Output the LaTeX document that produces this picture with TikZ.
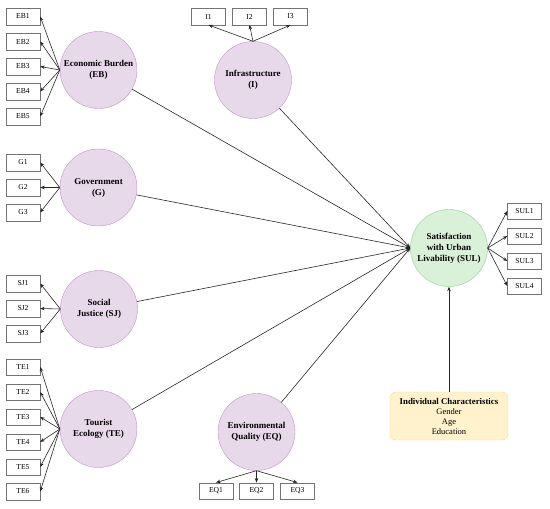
\documentclass[tikz,border=0pt]{standalone}
\usepackage{fontspec}
\setmainfont{Liberation Serif}
\usetikzlibrary{arrows.meta,shadows}
\definecolor{latfill}{HTML}{E8D9EA}
\definecolor{latline}{HTML}{BE94C6}
\definecolor{sulfill}{HTML}{D9F0D9}
\definecolor{sulline}{HTML}{8FD08F}
\definecolor{charfill}{HTML}{FFF2CC}
\definecolor{charline}{HTML}{F5D98A}
\begin{document}
\begin{tikzpicture}
[x=1pt,y=-1pt,
latent/.style={circle,draw=latline,fill=latfill,minimum size=77pt,inner sep=0pt,align=center,font=\fontsize{9}{11}\selectfont\bfseries},
ind/.style={draw=black!55,fill=white,minimum width=34pt,minimum height=16.5pt,inner sep=0pt,font=\fontsize{7.6}{9}\selectfont,drop shadow={shadow xshift=0.7pt,shadow yshift=-0.7pt,fill=black!80,opacity=1}},
arr/.style={draw=black!85,line width=0.6pt,-{Stealth[length=4.5pt,width=3.5pt]}}]
\useasboundingbox (0,0) rectangle (550,509);
% latent variables
\node (eb) at (98.5,70) [latent] {Economic Burden\\(EB)};
\node (inf) at (253,80) [latent] {Infrastructure\\(I)};
\node (gov) at (98.5,187.5) [latent] {Government\\(G)};
\node (sj) at (99,309) [latent] {Social\\Justice (SJ)};
\node (te) at (98.5,429) [latent] {Tourist\\Ecology (TE)};
\node (eq) at (256.5,432) [latent] {Environmental\\Quality (EQ)};
\node (sul) at (449,248) [latent,draw=sulline,fill=sulfill] {Satisfaction\\with Urban\\Livability (SUL)};
\node (ic) at (449,416) [draw=charline,fill=charfill,rounded corners=6pt,minimum width=118pt,minimum height=48pt,align=center,font=\fontsize{8.5}{10}\selectfont] {{\fontsize{8.8}{10}\selectfont\bfseries Individual Characteristics}\\Gender\\Age\\Education};
% indicators
\node (eb1) at (23,16.5) [ind] {EB1};
\node (eb2) at (23,41.5) [ind] {EB2};
\node (eb3) at (23,66.5) [ind] {EB3};
\node (eb4) at (23,91.5) [ind] {EB4};
\node (eb5) at (23,116.5) [ind] {EB5};
\node (i1) at (208.5,16.5) [ind] {I1};
\node (i2) at (249.5,16.5) [ind] {I2};
\node (i3) at (290.5,16.5) [ind] {I3};
\node (g1) at (23,162.5) [ind] {G1};
\node (g2) at (23,187.5) [ind] {G2};
\node (g3) at (23,212.5) [ind] {G3};
\node (sj1) at (23,283.5) [ind] {SJ1};
\node (sj2) at (23,308.5) [ind] {SJ2};
\node (sj3) at (23,333.5) [ind] {SJ3};
\node (te1) at (23,367) [ind] {TE1};
\node (te2) at (23,392) [ind] {TE2};
\node (te3) at (23,417) [ind] {TE3};
\node (te4) at (23,442) [ind] {TE4};
\node (te5) at (23,467) [ind] {TE5};
\node (te6) at (23,491.5) [ind] {TE6};
\node (eq1) at (216,491) [ind] {EQ1};
\node (eq2) at (256.5,491) [ind] {EQ2};
\node (eq3) at (297.5,491) [ind] {EQ3};
\node (sul1) at (524.5,211) [ind] {SUL1};
\node (sul2) at (524.5,236) [ind] {SUL2};
\node (sul3) at (524.5,261) [ind] {SUL3};
\node (sul4) at (524.5,286) [ind] {SUL4};
% loadings
\draw[arr] (eb.west) -- (eb1.east);
\draw[arr] (eb.west) -- (eb2.east);
\draw[arr] (eb.west) -- (eb3.east);
\draw[arr] (eb.west) -- (eb4.east);
\draw[arr] (eb.west) -- (eb5.east);
\draw[arr] (inf.north) -- (i1.south);
\draw[arr] (inf.north) -- (i2.south);
\draw[arr] (inf.north) -- (i3.south);
\draw[arr] (gov.west) -- (g1.east);
\draw[arr] (gov.west) -- (g2.east);
\draw[arr] (gov.west) -- (g3.east);
\draw[arr] (sj.west) -- (sj1.east);
\draw[arr] (sj.west) -- (sj2.east);
\draw[arr] (sj.west) -- (sj3.east);
\draw[arr] (te.west) -- (te1.east);
\draw[arr] (te.west) -- (te2.east);
\draw[arr] (te.west) -- (te3.east);
\draw[arr] (te.west) -- (te4.east);
\draw[arr] (te.west) -- (te5.east);
\draw[arr] (te.west) -- (te6.east);
\draw[arr] (eq.south) -- (eq1.north);
\draw[arr] (eq.south) -- (eq2.north);
\draw[arr] (eq.south) -- (eq3.north);
\draw[arr] (sul.east) -- (sul1.west);
\draw[arr] (sul.east) -- (sul2.west);
\draw[arr] (sul.east) -- (sul3.west);
\draw[arr] (sul.east) -- (sul4.west);
% paths
\draw[arr] (eb) -- (sul.west);
\draw[arr] (inf) -- (sul.west);
\draw[arr] (gov) -- (sul.west);
\draw[arr] (sj) -- (sul.west);
\draw[arr] (te) -- (sul.west);
\draw[arr] (eq) -- (sul.west);
\draw[arr] (ic) -- (sul);
\end{tikzpicture}
\end{document}
